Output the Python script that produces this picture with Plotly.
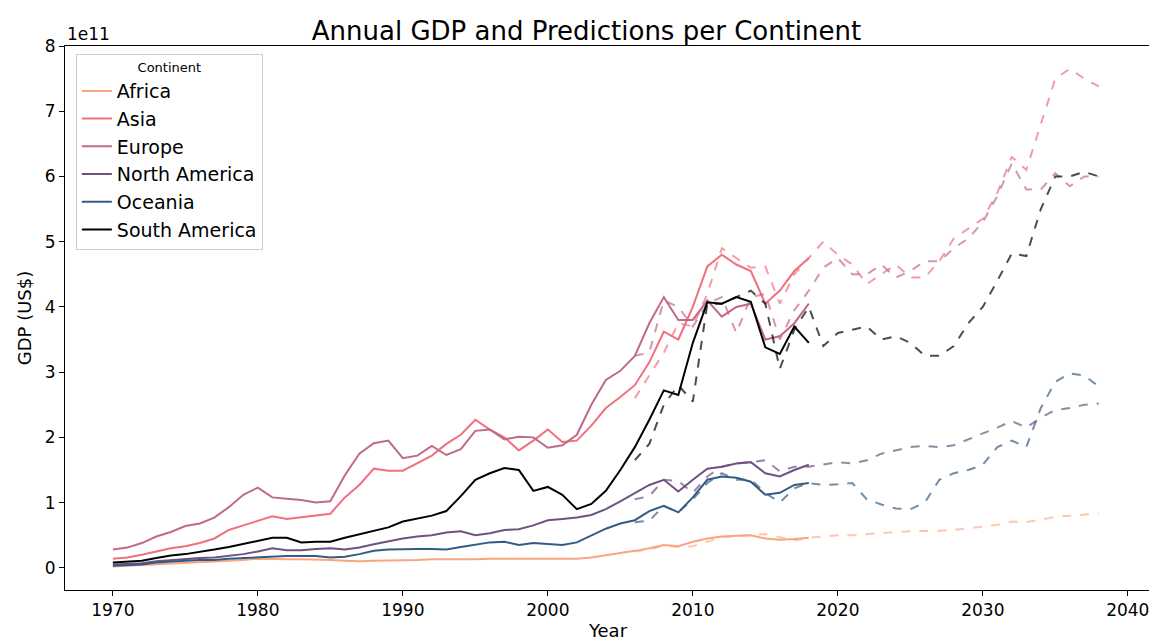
import plotly.graph_objects as go

years = list(range(1970, 2019))
pred_years = list(range(2006, 2039))

continents = ["Africa", "Asia", "Europe", "North America", "Oceania", "South America"]
colors = ["#f9a57f", "#f0707e", "#c06a8a", "#6e5282", "#345c82", "#000000"]
dash_colors = ["rgba(249,165,127,0.6)", "rgba(240,112,126,0.7)", "rgba(192,106,138,0.7)",
               "rgba(110,82,130,0.7)", "rgba(52,92,130,0.7)", "rgba(0,0,0,0.7)"]

# GDP in units of 1e11 US$
africa = [0.02,0.03,0.04,0.05,0.06,0.07,0.08,0.09,0.10,0.12,0.14,0.13,0.13,0.13,0.13,0.12,0.11,0.10,0.11,0.11,
          0.12,0.12,0.13,0.13,0.12,0.13,0.14,0.14,0.14,0.14,0.14,0.14,0.14,0.16,0.19,0.22,0.26,0.30,0.35,0.33,
          0.40,0.45,0.48,0.49,0.50,0.45,0.43,0.44,0.46]
asia = [0.14,0.16,0.20,0.25,0.30,0.33,0.38,0.45,0.58,0.65,0.72,0.79,0.75,0.78,0.80,0.83,1.08,1.27,1.52,1.49,
        1.49,1.61,1.72,1.90,2.04,2.27,2.12,2.00,1.80,1.95,2.12,1.93,1.95,2.18,2.45,2.62,2.80,3.15,3.62,3.50,
        4.00,4.62,4.80,4.65,4.55,4.05,4.25,4.55,4.75]
europe = [0.28,0.31,0.38,0.48,0.55,0.64,0.68,0.77,0.93,1.12,1.23,1.08,1.06,1.04,1.00,1.02,1.42,1.75,1.91,1.95,
          1.68,1.72,1.87,1.73,1.82,2.10,2.12,1.97,2.01,2.00,1.84,1.88,2.04,2.50,2.88,3.02,3.25,3.75,4.15,3.80,
          3.80,4.10,3.85,4.00,4.05,3.50,3.55,3.75,4.05]
north_america = [0.05,0.06,0.07,0.10,0.12,0.13,0.15,0.16,0.18,0.21,0.25,0.30,0.27,0.27,0.29,0.30,0.28,0.31,0.36,0.41,
                 0.45,0.48,0.50,0.54,0.56,0.50,0.53,0.58,0.59,0.65,0.73,0.75,0.77,0.81,0.90,1.02,1.15,1.27,1.35,1.17,
                 1.35,1.52,1.55,1.60,1.62,1.45,1.40,1.50,1.58]
oceania = [0.03,0.04,0.05,0.08,0.10,0.11,0.12,0.12,0.14,0.15,0.17,0.18,0.18,0.18,0.18,0.16,0.17,0.21,0.26,0.28,
           0.29,0.29,0.29,0.28,0.32,0.35,0.39,0.40,0.35,0.38,0.36,0.35,0.39,0.50,0.60,0.68,0.73,0.87,0.95,0.85,
           1.08,1.35,1.40,1.38,1.32,1.12,1.15,1.27,1.30]
south_america = [0.08,0.10,0.11,0.15,0.19,0.21,0.24,0.28,0.32,0.37,0.41,0.46,0.46,0.39,0.40,0.40,0.46,0.51,0.56,0.62,
                 0.71,0.75,0.80,0.87,1.10,1.35,1.45,1.53,1.50,1.18,1.24,1.12,0.90,0.98,1.18,1.50,1.85,2.27,2.72,2.65,
                 3.45,4.07,4.05,4.15,4.08,3.38,3.28,3.70,3.45]

africa_pred = [0.25,0.28,0.34,0.32,0.33,0.40,0.47,0.48,0.50,0.52,0.47,0.42,0.46,0.48,0.50,0.50,0.52,0.54,0.55,0.56,
               0.56,0.57,0.58,0.60,0.63,0.66,0.71,0.70,0.74,0.78,0.80,0.81,0.83]
asia_pred = [2.60,2.95,3.30,3.75,3.70,4.20,4.90,4.75,4.60,4.62,4.05,4.50,4.75,5.00,4.80,4.65,4.35,4.50,4.65,4.45,
             4.45,4.70,5.05,5.20,5.35,5.75,6.30,6.10,6.80,7.50,7.65,7.50,7.38]
europe_pred = [3.25,3.30,4.10,4.00,3.70,4.05,4.15,3.60,4.15,4.20,3.50,3.95,4.25,4.60,4.75,4.50,4.50,4.65,4.45,4.55,
               4.70,4.70,4.90,5.05,5.30,5.70,6.20,5.80,5.80,6.05,5.85,6.00,6.00]
north_america_pred = [1.05,1.10,1.35,1.33,1.15,1.40,1.55,1.60,1.62,1.65,1.48,1.55,1.55,1.58,1.62,1.60,1.65,1.75,1.80,1.85,
                      1.87,1.85,1.88,1.97,2.05,2.15,2.25,2.15,2.30,2.42,2.45,2.50,2.52]
oceania_pred = [0.70,0.72,0.95,0.85,1.05,1.30,1.45,1.35,1.35,1.15,1.00,1.22,1.30,1.27,1.28,1.30,1.05,0.97,0.91,0.90,
                1.00,1.35,1.45,1.50,1.58,1.85,1.95,1.85,2.45,2.85,2.98,2.95,2.78]
south_america_pred = [1.65,1.90,2.50,2.80,2.55,4.05,4.05,4.15,4.25,4.05,3.05,3.65,4.00,3.40,3.60,3.65,3.70,3.50,3.55,3.45,
                      3.25,3.25,3.40,3.75,4.00,4.40,4.82,4.78,5.50,6.00,6.00,6.07,6.00]

actual = [africa, asia, europe, north_america, oceania, south_america]
preds = [africa_pred, asia_pred, europe_pred, north_america_pred, oceania_pred, south_america_pred]

fig = go.Figure()
for name, col, dcol, ys, ps in zip(continents, colors, dash_colors, actual, preds):
    fig.add_trace(go.Scatter(x=years, y=[v * 1e11 for v in ys], mode='lines', name=name,
                             line=dict(color=col, width=2)))
    fig.add_trace(go.Scatter(x=pred_years, y=[v * 1e11 for v in ps], mode='lines', showlegend=False,
                             line=dict(color=dcol, width=2, dash='dash')))

tick_vals = [i * 1e11 for i in range(9)]
tick_text = [str(i) for i in range(9)]

axis_common = dict(showline=True, mirror=True, linecolor='black', linewidth=1, showgrid=False,
                   zeroline=False, ticks='outside', ticklen=5, tickcolor='black',
                   tickfont=dict(family='DejaVu Sans', size=17, color='black'))

fig.update_layout(
    width=1157, height=642,
    margin=dict(l=57, r=14, t=38, b=60),
    plot_bgcolor='white', paper_bgcolor='white',
    font=dict(family='DejaVu Sans', color='black'),
    title=dict(text="Annual GDP and Predictions per Continent", x=0.5, xanchor='center',
               y=0.965, yanchor='middle', font=dict(size=26)),
    xaxis=dict(range=[1966.7, 2041.6], tickvals=[1970, 1980, 1990, 2000, 2010, 2020, 2030, 2040],
               title=dict(text="Year", font=dict(size=18), standoff=4), **axis_common),
    yaxis=dict(range=[-0.34e11, 8.0e11], tickvals=tick_vals, ticktext=tick_text,
               title=dict(text="GDP (US$)", font=dict(size=18), standoff=8), **axis_common),
    legend=dict(x=0.01, y=0.985, xanchor='left', yanchor='top', bgcolor='white',
                bordercolor='#cccccc', borderwidth=1, font=dict(size=19), tracegroupgap=4,
                title=dict(text="Continent", font=dict(size=13), side='top center')),
    annotations=[dict(text="1e11", xref='paper', yref='paper', x=0, y=1.0, xanchor='left',
                      yanchor='bottom', showarrow=False, font=dict(size=17))],
)

fig.write_html("out.html")
